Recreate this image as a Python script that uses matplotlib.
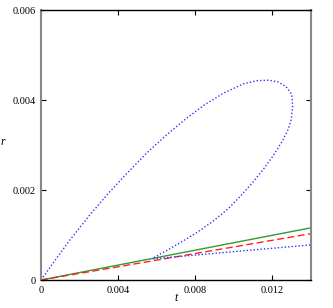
import matplotlib
matplotlib.use("Agg")
import matplotlib.pyplot as plt

# straight lines (start and end)
green_t = [0.0, 0.014]
green_r = [0.0, 0.00116]

red_t = [0.0, 0.014]
red_r = [0.0, 0.00103]

# blue loop: upper branch going out, then back down to the meeting point
blue_loop_t = [0.0, 0.0008, 0.0015, 0.0025, 0.0035, 0.0045, 0.0055, 0.0065, 0.0075,
               0.0085, 0.0095, 0.0105, 0.0112, 0.0118, 0.0123, 0.0127, 0.0130, 0.01305,
               0.01297, 0.0128, 0.0125, 0.0121, 0.0116, 0.0110, 0.0104, 0.0097,
               0.0089, 0.0081, 0.0073, 0.0065, 0.00582]
blue_loop_r = [0.0, 0.00048, 0.00089, 0.00143, 0.00193, 0.00239, 0.00283, 0.00322, 0.00358,
               0.00390, 0.00416, 0.00436, 0.00443, 0.00444, 0.00440, 0.00430, 0.00413, 0.00385,
               0.00356, 0.00333, 0.00308, 0.00280, 0.00250, 0.00218, 0.00189, 0.00158,
               0.00130, 0.00106, 0.00085, 0.00065, 0.00049]

# blue lower branch
blue_low_t = [0.00582, 0.00945, 0.014]
blue_low_r = [0.00047, 0.00061, 0.00078]

xticks = [0, 0.004, 0.008, 0.012]
xtick_labels = ["0", "0.004", "0.008", "0.012"]
yticks = [0, 0.002, 0.004, 0.006]
ytick_labels = ["0", "0.002", "0.004", "0.006"]

plt.rcParams["font.family"] = ["Liberation Serif", "DejaVu Serif"]

fig = plt.figure(figsize=(3.33, 3.08), dpi=100)
ax = fig.add_axes([41 / 333, 28 / 308, 270 / 333, 270 / 308])

ax.plot(green_t, green_r, color="#339933", linewidth=1.0)
ax.plot(red_t, red_r, color="#ff2222", linewidth=1.0, linestyle=(0, (5, 2.5)))
ax.plot(blue_loop_t, blue_loop_r, color="#3333ff", linewidth=1.0, linestyle=(0, (1, 1.5)))
ax.plot(blue_low_t, blue_low_r, color="#3333ff", linewidth=1.0, linestyle=(0, (1, 1.5)))

ax.set_xlim(0, 0.014)
ax.set_ylim(0, 0.006)
ax.set_xticks(xticks)
ax.set_xticklabels(xtick_labels)
ax.set_yticks(yticks)
ax.set_yticklabels(ytick_labels)

ax.tick_params(direction="in", length=3.5, width=0.8, labelsize=7.5,
               top=True, right=True, pad=4)

for side in ["left", "right"]:
    ax.spines[side].set_color("#888888")
    ax.spines[side].set_linewidth(1.5)
for side in ["top", "bottom"]:
    ax.spines[side].set_color("black")
    ax.spines[side].set_linewidth(1.0)

ax.set_xlabel("t", fontsize=8.5, style="italic", labelpad=-2)
ax.set_ylabel("r", fontsize=8.5, style="italic", rotation=0, labelpad=0)
ax.yaxis.set_label_coords(-0.14, 0.49)

fig.savefig("out.png", dpi=100)
